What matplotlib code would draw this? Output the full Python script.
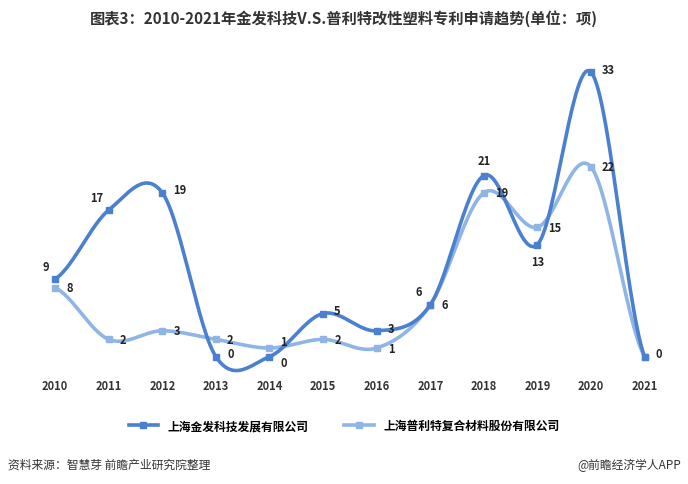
import numpy as np
import matplotlib.pyplot as plt
from matplotlib.lines import Line2D

plt.rcParams["font.family"] = ["Noto Sans CJK SC", "DejaVu Sans"]

YEARS = ["2010", "2011", "2012", "2013", "2014", "2015", "2016", "2017", "2018", "2019", "2020", "2021"]
JINFA = [9, 17, 19, 0, 0, 5, 3, 6, 21, 13, 33, 0]
PULITE = [8, 2, 3, 2, 1, 2, 1, 6, 19, 15, 22, 0]
NAMES = ["上海金发科技发展有限公司", "上海普利特复合材料股份有限公司"]
COLORS = ["#4a80cf", "#8fb5e6"]


def smooth(x, y, n=30, t=0.5):
    # cardinal spline through the points, like the original smoothed line
    x = np.asarray(x, float); y = np.asarray(y, float)
    px = np.concatenate([[2 * x[0] - x[1]], x, [2 * x[-1] - x[-2]]])
    py = np.concatenate([[y[0]], y, [y[-1]]])
    xs, ys = [], []
    for i in range(1, len(px) - 2):
        m0x = t * (px[i + 1] - px[i - 1]); m1x = t * (px[i + 2] - px[i])
        m0y = t * (py[i + 1] - py[i - 1]); m1y = t * (py[i + 2] - py[i])
        s = np.linspace(0, 1, n)
        h00 = 2 * s**3 - 3 * s**2 + 1; h10 = s**3 - 2 * s**2 + s
        h01 = -2 * s**3 + 3 * s**2; h11 = s**3 - s**2
        xs.append(h00 * px[i] + h10 * m0x + h01 * px[i + 1] + h11 * m1x)
        ys.append(h00 * py[i] + h10 * m0y + h01 * py[i + 1] + h11 * m1y)
    return np.concatenate(xs), np.concatenate(ys)


fig = plt.figure(figsize=(6.88, 4.85), dpi=100)
ax = fig.add_axes([0.049, 0.227, 0.919, 0.658])
x = np.arange(len(YEARS))

for vals, c, z in [(PULITE, COLORS[1], 2), (JINFA, COLORS[0], 3)]:
    sx, sy = smooth(x, vals)
    ax.plot(sx, sy, color=c, lw=2.6, zorder=z, solid_capstyle="round")
    ax.plot(x, vals, "s", color=c, ms=5, zorder=z + 1)

for i, v in enumerate(JINFA):
    dx, ha, dy = 8, "left", 2
    if i in (0, 1):
        dx, ha, dy = -4, "right", 9
    if i == 4:
        dx, dy = 8, -4
    if i == 7:
        dx, ha, dy = -6, "right", 10
    if i == 8:
        dx, ha, dy = 0, "center", 11
    if i == 9:
        dx, ha, dy = 0, "center", -12
    ax.annotate(str(v), (i, v), xytext=(dx, dy), textcoords="offset points",
                ha=ha, va="center", fontsize=8, fontweight="bold", color="#222")
for i, v in enumerate(PULITE):
    if i in (7, 11):
        continue
    dx, dy = 8, 0
    if i == 4:
        dx, dy = 8, 5
    ax.annotate(str(v), (i, v), xytext=(dx, dy), textcoords="offset points",
                ha="left", va="center", fontsize=8, fontweight="bold", color="#222")
ax.annotate("6", (7, 6), xytext=(8, 0), textcoords="offset points",
            ha="left", va="center", fontsize=8, fontweight="bold", color="#222")

ax.set_xlim(-0.4, 11.4)
ax.set_ylim(-2, 35)
ax.set_xticks(x)
ax.set_xticklabels(YEARS, fontsize=8, fontweight="bold", color="#333")
ax.set_yticks([])
ax.tick_params(axis="x", length=0, pad=4)
for s in ax.spines.values():
    s.set_visible(False)

fig.text(0.5, 0.962, "图表3：2010-2021年金发科技V.S.普利特改性塑料专利申请趋势(单位：项)",
         ha="center", va="center", fontsize=11, fontweight="bold", color="#333")

handles = [Line2D([], [], color=c, lw=2.6, marker="s", ms=5) for c in COLORS]
fig.legend(handles, NAMES, loc="center", bbox_to_anchor=(0.5, 0.12), ncol=2,
           frameon=False, prop={"weight": "bold", "size": 8.5},
           handlelength=2.5, columnspacing=3)

fig.text(0.012, 0.04, "资料来源：智慧芽 前瞻产业研究院整理", ha="left", va="center",
         fontsize=8.5, color="#333")
fig.text(0.99, 0.04, "@前瞻经济学人APP", ha="right", va="center",
         fontsize=8.5, color="#333")

fig.savefig("out.png", dpi=100)
